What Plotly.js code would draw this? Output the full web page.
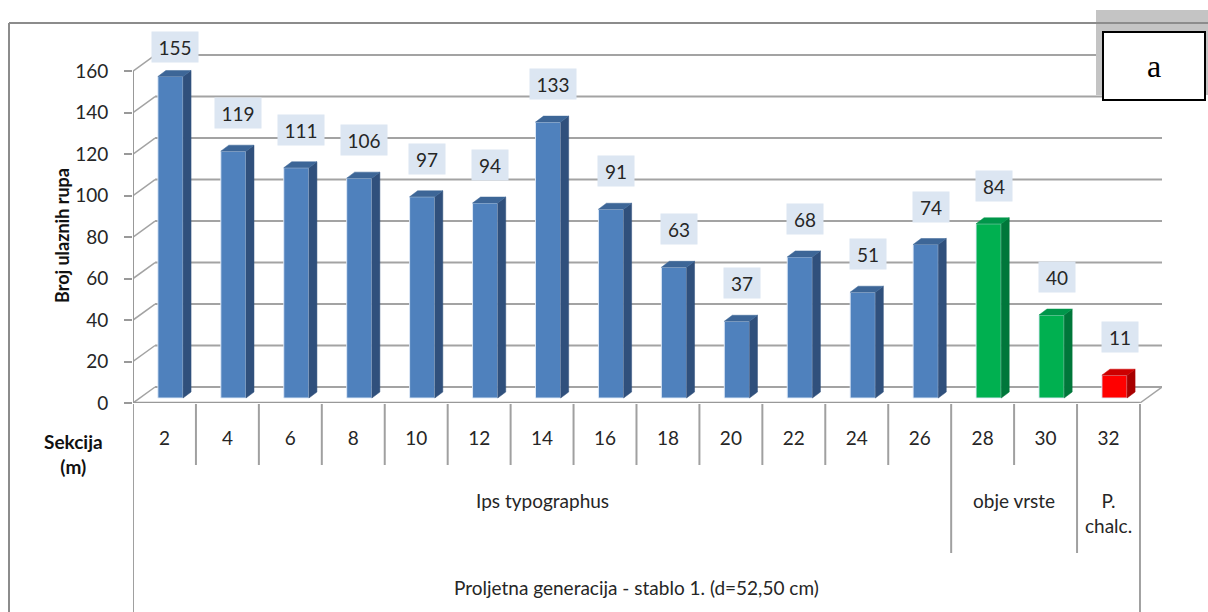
<!DOCTYPE html>
<html><head><meta charset="utf-8">
<script src="https://cdn.plot.ly/plotly-3.0.1.min.js"></script>
<style>html,body{margin:0;padding:0;background:#fff;} #chart{width:1208px;height:612px;}</style>
</head><body><div id="chart"></div>
<script>
// ---- data ----
const sections = ['2','4','6','8','10','12','14','16','18','20','22','24','26','28','30','32'];
const holes = [155,119,111,106,97,94,133,91,63,37,68,51,74,84,40,11];
const groupNames = ['Ips typographus','obje vrste','P.<br>chalc.'];
const groupSizes = [13,2,1];
const groupFront = ['#4F81BD','#00B050','#FF0000'];
const groupSide = ['#30507C','#00773A','#A80000'];
const groupTop = ['#3D6697','#00964A','#CC0000'];
const yTicks = [0,20,40,60,80,100,120,140,160];
const yTitle = 'Broj ulaznih rupa';
const xTitle = 'Sekcija<br>(m)';
const outerTitle = 'Proljetna generacija - stablo 1. (d=52,50 cm)';
const panelLetter = 'a';

// ---- geometry ----
const W=1208,H=612,ML=133,MR=46,MT=40,MB=209;
const PW=W-ML-MR, PH=H-MT-MB;
const Y_MAX=175;
const DXU=0.35;
const X0=-0.5, X1=sections.length-0.5;
const pxX = PW/(X1+DXU-X0);
const pxY = PH/Y_MAX;
const DYU = 16/pxY;
const FX = 6/pxX, FY = 5/pxY, BW = 0.4, BDX = 8/pxX, BDY = 6/pxY;
const py = p => (H-MB-p)/PH;      // pixel y -> paper
const pxp = p => (p-ML)/PW;       // pixel x -> paper
const FONT = 'Lato, "Open Sans", sans-serif';
const GRID = '#A3A3A3';

const groupIdx = [];
groupSizes.forEach((s,g)=>{ for(let k=0;k<s;k++) groupIdx.push(g); });
const idx = sections.map((_,i)=>i);

const shapes = [];
// back wall gridlines + depth diagonals
yTicks.forEach(t=>{
  shapes.push({type:'line',xref:'x',yref:'y',x0:X0+DXU,x1:X1+DXU,y0:t+DYU,y1:t+DYU,line:{color:GRID,width:2},layer:'below'});
  shapes.push({type:'line',xref:'x',yref:'y',x0:X0,x1:X0+DXU,y0:t,y1:t+DYU,line:{color:GRID,width:1.5},layer:'below'});
});
// front axis lines
shapes.push({type:'line',xref:'x',yref:'y',x0:X0,x1:X0,y0:0,y1:yTicks[yTicks.length-1],line:{color:'#999',width:2},layer:'below'});
shapes.push({type:'line',xref:'x',yref:'y',x0:X0,x1:X1,y0:0,y1:0,line:{color:'#999',width:2.5},layer:'below'});
shapes.push({type:'line',xref:'x',yref:'y',x0:X1,x1:X1+DXU,y0:0,y1:DYU,line:{color:GRID,width:1.5},layer:'below'});

// 3D faces of bars
idx.forEach(i=>{
  const g=groupIdx[i], v=holes[i];
  const xl=i+FX-BW/2, xr=i+FX+BW/2, b=FY, t=FY+v;
  shapes.push({type:'path',xref:'x',yref:'y',layer:'above',fillcolor:groupSide[g],line:{color:groupSide[g],width:0.5},
    path:`M ${xr},${b} L ${xr+BDX},${b+BDY} L ${xr+BDX},${t+BDY} L ${xr},${t} Z`});
  shapes.push({type:'path',xref:'x',yref:'y',layer:'above',fillcolor:groupTop[g],line:{color:groupTop[g],width:0.5},
    path:`M ${xl},${t} L ${xr},${t} L ${xr+BDX},${t+BDY} L ${xl+BDX},${t+BDY} Z`});
});

// category table lines
const tableLine = {color:'#A0A0A0',width:2};
for(let k=0;k<=sections.length;k++){
  const x=X0+k;
  const bottom = (k===0||k===sections.length)? 620 : 465;
  shapes.push({type:'line',xref:'x',yref:'paper',x0:x,x1:x,y0:py(404),y1:py(bottom),line:tableLine});
}
let acc=0;
groupSizes.forEach((s,g)=>{
  acc+=s;
  if(acc<sections.length){
    shapes.push({type:'line',xref:'x',yref:'paper',x0:X0+acc,x1:X0+acc,y0:py(465),y1:py(553),line:tableLine});
  }
});

// chart outer border
shapes.push({type:'line',xref:'paper',yref:'paper',x0:pxp(9),x1:pxp(9),y0:py(23),y1:py(620),line:{color:'#8C8C8C',width:2}});
// panel letter box
shapes.push({type:'rect',xref:'paper',yref:'paper',x0:pxp(1096),x1:pxp(1212),y0:py(10),y1:py(95),fillcolor:'#C4C4C4',line:{width:0},layer:'above'});
shapes.push({type:'line',xref:'paper',yref:'paper',x0:pxp(9),x1:pxp(1212),y0:py(23),y1:py(23),line:{color:'#8C8C8C',width:2},layer:'above'});
shapes.push({type:'rect',xref:'paper',yref:'paper',x0:pxp(1103),x1:pxp(1205),y0:py(32),y1:py(100),fillcolor:'#FFFFFF',line:{color:'#000',width:2},layer:'above'});

const annotations = [];
// data labels
idx.forEach(i=>{
  const v=holes[i];
  const topPx = (H-MB) - (FY+v)*pxY;
  const center = Math.max(47, topPx-38);
  const txt = String(v);
  annotations.push({xref:'x',yref:'y',x:i+FX+5/pxX,y:FY+v,yshift:topPx-center,text:txt,showarrow:false,
    xanchor:'center',yanchor:'middle',width:txt.length>2?46:36,height:30,bgcolor:'#DCE6F2',borderpad:0,
    font:{family:FONT,size:19,color:'#262626'}});
});
// axis titles
annotations.push({xref:'paper',yref:'paper',x:pxp(62),y:py(236),text:'<b>'+yTitle+'</b>',textangle:-90,showarrow:false,
  font:{family:FONT,size:18,color:'#111'},xanchor:'center',yanchor:'middle'});
annotations.push({xref:'paper',yref:'paper',x:pxp(73),y:py(454),text:'<b>'+xTitle.replace('<br>','</b><br><b>')+'</b>',showarrow:false,
  font:{family:FONT,size:19,color:'#111'},xanchor:'center',yanchor:'middle'});
// group labels
acc=0;
groupSizes.forEach((s,g)=>{
  const c = acc + (s-1)/2; acc+=s;
  annotations.push({xref:'x',yref:'paper',x:c,y:py(487),text:groupNames[g],showarrow:false,xanchor:'center',yanchor:'top',
    font:{family:FONT,size:19,color:'#262626'}});
});
annotations.push({xref:'x',yref:'paper',x:(sections.length-1)/2,y:py(587),text:outerTitle,showarrow:false,xanchor:'center',yanchor:'middle',
  font:{family:FONT,size:19,color:'#262626'}});
annotations.push({xref:'paper',yref:'paper',x:pxp(1154),y:py(66),text:panelLetter,showarrow:false,xanchor:'center',yanchor:'middle',
  font:{family:'"Liberation Serif", "DejaVu Serif", serif',size:32,color:'#000'}});

const trace = {
  type:'bar', x:idx.map(i=>i+FX), y:holes, base:FY, width:BW,
  marker:{color:groupIdx.map(g=>groupFront[g]), line:{color:'rgba(225,235,248,0.9)',width:1}},
  hoverinfo:'skip', showlegend:false, cliponaxis:false
};

const layout = {
  width:W, height:H, margin:{l:ML,r:MR,t:MT,b:MB},
  paper_bgcolor:'#fff', plot_bgcolor:'rgba(0,0,0,0)', showlegend:false,
  xaxis:{range:[X0,X1+DXU],tickvals:idx,ticktext:sections,ticks:'',showline:false,showgrid:false,zeroline:false,
    tickfont:{family:FONT,size:19,color:'#262626'},ticklabelstandoff:22,fixedrange:true},
  yaxis:{range:[0,Y_MAX],tickvals:yTicks,ticks:'outside',ticklen:8,tickwidth:2,tickcolor:'#999',showline:false,showgrid:false,zeroline:false,
    tickfont:{family:FONT,size:19,color:'#262626'},ticklabelstandoff:12,fixedrange:true},
  shapes:shapes, annotations:annotations
};
Plotly.newPlot('chart',[trace],layout,{displayModeBar:false,staticPlot:true});
</script>
</body></html>
